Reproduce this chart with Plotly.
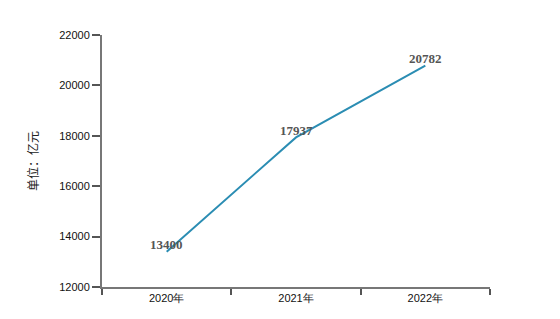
import plotly.graph_objects as go

years = ["2020年", "2021年", "2022年"]
values = [13400, 17937, 20782]
y_ticks = [12000, 14000, 16000, 18000, 20000, 22000]
y_tick_labels = ["12000", "14000", "16000", "18000", "20000", "22000"]

fig = go.Figure()
fig.add_trace(go.Scatter(
    x=years, y=values, mode="lines",
    line=dict(color="#2B8DB3", width=2),
    hoverinfo="skip", showlegend=False,
))
for x, v in zip(years, values):
    fig.add_annotation(
        x=x, y=v, text=str(v), showarrow=False, yshift=7,
        font=dict(family="Liberation Serif", size=13, color="#555555", weight="bold"),
    )

fig.update_layout(
    width=560, height=319,
    margin=dict(l=102, r=70, t=35, b=32),
    paper_bgcolor="white", plot_bgcolor="white",
    font=dict(family="Liberation Sans", size=11, color="#111111"),
)
fig.update_xaxes(
    type="category", range=[-0.5, 2.5], tickson="boundaries",
    ticks="outside", ticklen=6, tickwidth=1.5, tickcolor="#555555",
    showline=True, linecolor="#777777", linewidth=2,
    showgrid=False, zeroline=False,
    tickfont=dict(family="Liberation Sans", size=11, color="#111111"),
)
fig.update_yaxes(
    range=[12000, 22000], tickvals=y_ticks, ticktext=y_tick_labels,
    ticks="outside", ticklen=8, tickwidth=1.5, tickcolor="#555555",
    showline=True, linecolor="#777777", linewidth=2,
    showgrid=False, zeroline=False,
    tickfont=dict(family="Liberation Sans", size=11, color="#111111"),
    title=dict(text="单位：亿元", standoff=18,
               font=dict(family="Noto Sans CJK SC", size=12, color="#222222")),
)

fig.write_html("out.html")
